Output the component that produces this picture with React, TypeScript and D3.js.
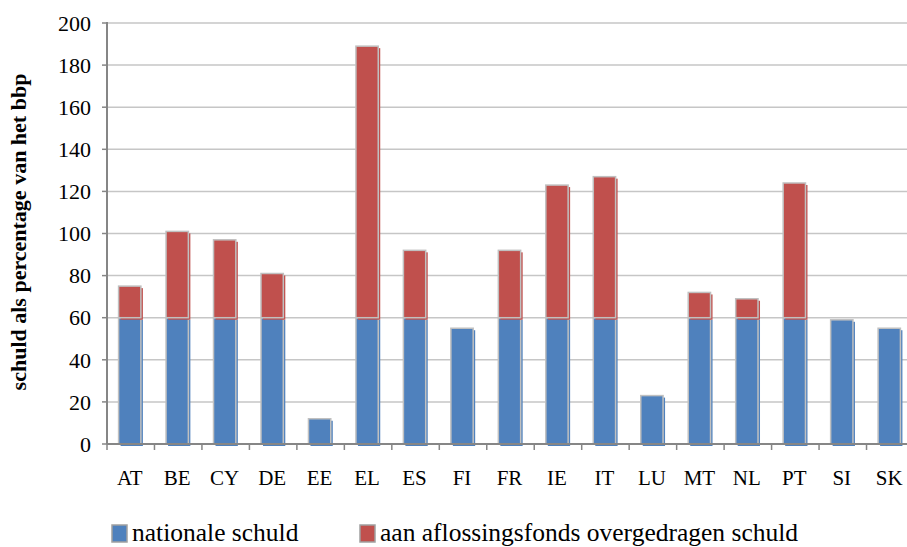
import * as d3 from "d3";
import React from "react";

const categories = ["AT", "BE", "CY", "DE", "EE", "EL", "ES", "FI", "FR", "IE", "IT", "LU", "MT", "NL", "PT", "SI", "SK"];
const nationaleSchuld = [60, 60, 60, 60, 12, 60, 60, 55, 60, 60, 60, 23, 60, 60, 60, 59, 55];
const overgedragen = [15, 41, 37, 21, 0, 129, 32, 0, 32, 63, 67, 0, 12, 9, 64, 0, 0];
const seriesNames = ["nationale schuld", "aan aflossingsfonds overgedragen schuld"];
const yTicks = [0, 20, 40, 60, 80, 100, 120, 140, 160, 180, 200];

const COLORS = ["#4f81bd", "#c0504d"];
const FONT = '"Liberation Serif", "DejaVu Serif", "Times New Roman", serif';

export default function App() {
  const width = 907;
  const height = 547;
  const left = 107;
  const right = 914;
  const top = 23;
  const bottom = 444;

  const rows = categories.map((c, i) => ({ cat: c, a: nationaleSchuld[i], b: overgedragen[i] }));
  const stacked = d3.stack<any>().keys(["a", "b"])(rows);

  const x = d3.scaleBand().domain(categories).range([left, right]).padding(0);
  const y = d3.scaleLinear().domain([0, 200]).range([bottom, top]);
  const barW = x.bandwidth() * 0.47;

  return (
    <svg width={width} height={height} style={{ position: "absolute", left: 0, top: 0, fontFamily: FONT }}>
      <rect width={width} height={height} fill="#fff" />
      {/* gridlines */}
      {yTicks.filter((t) => t > 0).map((t) => (
        <line key={t} x1={left} x2={right} y1={y(t)} y2={y(t)} stroke="#c6c6c6" strokeWidth={1.5} />
      ))}
      {/* bars */}
      {stacked.map((s, si) => (
        <g key={si}>
          {s.map((d, i) => {
            if (d[1] - d[0] <= 0) return null;
            const bx = x(categories[i])! + x.bandwidth() / 2 - barW / 2 - 1;
            const by = y(d[1]);
            const bh = y(d[0]) - y(d[1]);
            return (
              <g key={i}>
                <rect x={bx + 2} y={by + 2} width={barW} height={bh} fill={COLORS[si]} />
                <rect x={bx} y={by} width={barW} height={bh} fill={COLORS[si]} stroke="#c0c0c0" strokeWidth={1.5} />
              </g>
            );
          })}
        </g>
      ))}
      {/* y axis */}
      <line x1={left} x2={left} y1={top - 1} y2={bottom} stroke="#868686" strokeWidth={2} />
      {yTicks.map((t) => (
        <g key={t}>
          <line x1={left - 5} x2={left} y1={y(t)} y2={y(t)} stroke="#868686" strokeWidth={1.5} />
          <text x={91} y={y(t)} dy="0.35em" textAnchor="end" fontSize={22} fill="#000">
            {t}
          </text>
        </g>
      ))}
      {/* x axis */}
      <line x1={left} x2={right} y1={bottom} y2={bottom} stroke="#868686" strokeWidth={2} />
      {categories.map((c) => (
        <g key={c}>
          <line x1={x(c)!} x2={x(c)!} y1={bottom} y2={bottom + 6} stroke="#868686" strokeWidth={1.5} />
          <text x={x(c)! + x.bandwidth() / 2 - 1} y={485} textAnchor="middle" fontSize={21} fill="#000">
            {c}
          </text>
        </g>
      ))}
      {/* y title */}
      <text
        transform={`translate(26,232) rotate(-90)`}
        textAnchor="middle"
        fontSize={22}
        fontWeight="bold"
        fill="#000"
      >
        schuld als percentage van het bbp
      </text>
      {/* legend */}
      {seriesNames.map((n, i) => {
        const lx = i === 0 ? 112 : 360;
        return (
          <g key={n}>
            <rect x={lx} y={525} width={15} height={17} fill={COLORS[i]} stroke="#a0a0a0" strokeWidth={1.5} />
            <text x={lx + 20} y={541} fontSize={25.5} fill="#000">
              {n}
            </text>
          </g>
        );
      })}
    </svg>
  );
}
